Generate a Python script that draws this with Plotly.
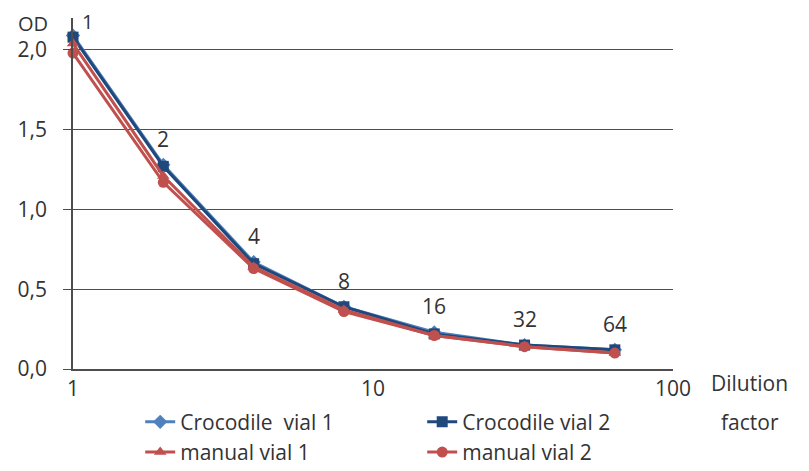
import math
import plotly.graph_objects as go

dilution = [1, 2, 4, 8, 16, 32, 64]
point_labels = ["1", "2", "4", "8", "16", "32", "64"]

croc_vial1 = [2.09, 1.28, 0.67, 0.39, 0.23, 0.15, 0.12]
croc_vial2 = [2.08, 1.27, 0.66, 0.39, 0.22, 0.15, 0.12]
manual_vial1 = [2.04, 1.21, 0.64, 0.37, 0.21, 0.14, 0.10]
manual_vial2 = [1.98, 1.17, 0.63, 0.36, 0.21, 0.14, 0.10]

y_ticks = [0, 0.5, 1.0, 1.5, 2.0]
x_ticks = [1, 10, 100]

FONT = "Open Sans, Liberation Sans, Arial"
FS = 21
BLUE_LIGHT = "#4F81BD"
BLUE_DARK = "#1F497D"
RED = "#C0504D"
TXT = "#333333"
AXIS = "#4d4d4d"

fig = go.Figure()

series = [
    ("Crocodile  vial 1", croc_vial1, BLUE_LIGHT, "diamond"),
    ("Crocodile vial 2", croc_vial2, BLUE_DARK, "square"),
    ("manual vial 1", manual_vial1, RED, "triangle-up"),
    ("manual vial 2", manual_vial2, RED, "circle"),
]
for name, vals, color, symbol in series:
    fig.add_trace(go.Scatter(
        x=dilution, y=vals, name=name, mode="lines+markers",
        line=dict(color=color, width=3),
        marker=dict(symbol=symbol, size=11, color=color),
        cliponaxis=False,
    ))

# dilution step labels above the curves
for xv, lab, v in zip(dilution, point_labels, croc_vial1):
    first = xv == 1
    fig.add_annotation(x=math.log10(xv), y=v, text=lab, showarrow=False,
                       yshift=14 if first else 26, xshift=14 if first else 0,
                       font=dict(size=FS - 1 if first else FS, color=TXT, family=FONT))

fig.add_annotation(xref="paper", yref="paper", x=-0.067, y=1.0, text="OD",
                   showarrow=False, xanchor="center", yanchor="middle", yshift=-5,
                   font=dict(size=20, color=TXT, family=FONT))
fig.add_annotation(xref="paper", yref="paper", x=1.128, y=-14 / 351, text="Dilution",
                   showarrow=False, xanchor="center", yanchor="middle",
                   font=dict(size=FS, color=TXT, family=FONT))
fig.add_annotation(xref="paper", yref="paper", x=1.128, y=-53 / 351, text="factor",
                   showarrow=False, xanchor="center", yanchor="middle",
                   font=dict(size=FS, color=TXT, family=FONT))

# the page body adds an 8px offset: left/top margins are 8px smaller,
# and the figure runs 8px past the bottom of the window
fig.update_layout(
    width=809, height=479,
    margin=dict(l=65, r=144, t=10, b=118),
    paper_bgcolor="white", plot_bgcolor="white",
    separators=",.",
    font=dict(family=FONT, size=FS, color=TXT),
    showlegend=True,
    legend=dict(orientation="h", x=0.112, y=-0.093, xanchor="left", yanchor="top",
                entrywidth=237, entrywidthmode="pixels", bgcolor="rgba(0,0,0,0)",
                font=dict(size=FS, family=FONT, color=TXT), tracegroupgap=0),
    xaxis=dict(type="log", range=[0, 2], tickvals=x_ticks, ticktext=["1", "10", "100"],
               showgrid=False, showline=True, linecolor=AXIS, linewidth=1.5,
               ticks="", zeroline=False, automargin=False),
    yaxis=dict(range=[0, 2.2], tickvals=y_ticks, tickformat=".1f",
               showgrid=True, gridcolor=AXIS, gridwidth=1,
               showline=True, linecolor=AXIS, linewidth=1.5,
               ticks="outside", ticklen=8, tickcolor=AXIS, zeroline=False,
               ticklabelstandoff=12, automargin=False),
)

fig.write_html("out.html")
